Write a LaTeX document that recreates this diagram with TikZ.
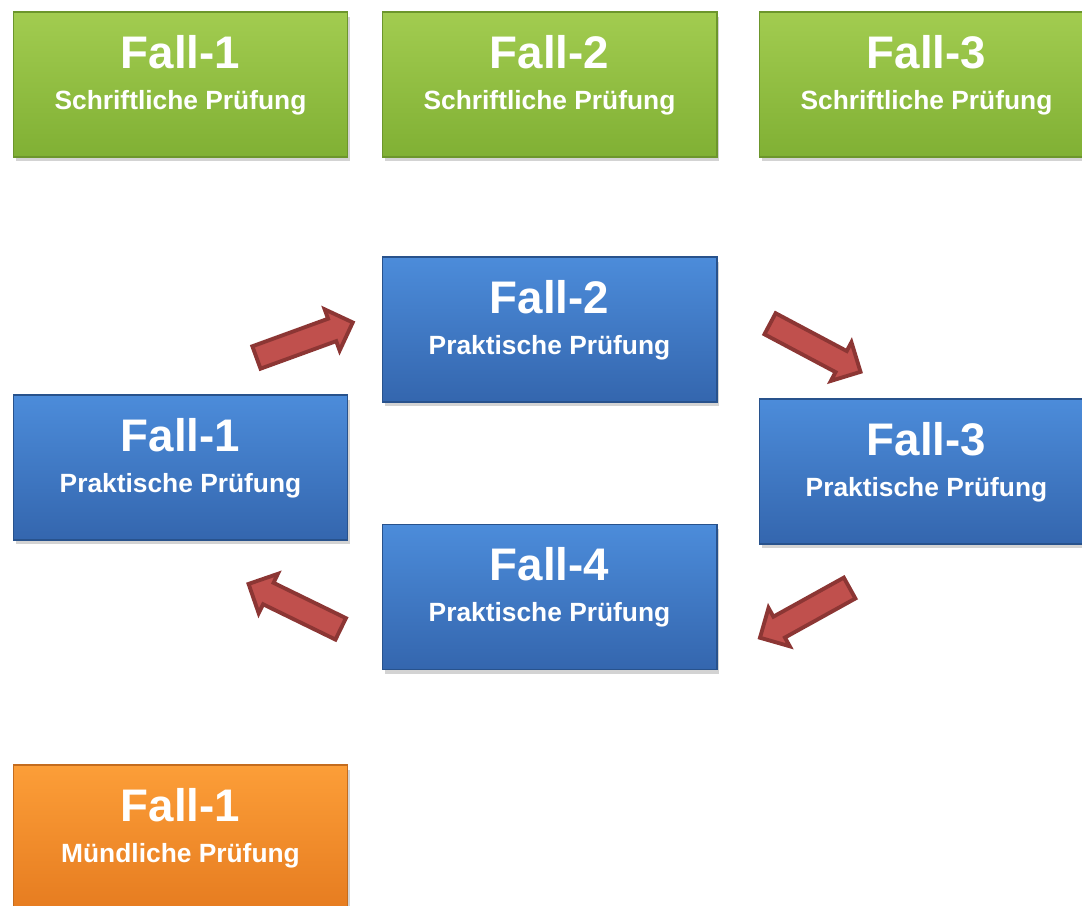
\documentclass[tikz,border=0pt]{standalone}
\usepackage{fontspec}
\setmainfont{Liberation Sans}
\usetikzlibrary{shapes.arrows, shadows, calc, positioning}
\definecolor{gruenhell}{RGB}{162,204,80}
\definecolor{gruendunkel}{RGB}{128,176,52}
\definecolor{gruenrand}{RGB}{108,150,44}
\definecolor{blauhell}{RGB}{76,140,218}
\definecolor{blaudunkel}{RGB}{52,102,174}
\definecolor{blaurand}{RGB}{40,82,140}
\definecolor{orangehell}{RGB}{252,158,56}
\definecolor{orangedunkel}{RGB}{230,124,32}
\definecolor{orangerand}{RGB}{196,108,30}
\definecolor{pfeilrot}{RGB}{192,80,77}
\definecolor{pfeilrand}{RGB}{140,54,52}

\begin{document}
\begin{tikzpicture}[
    x=0.02cm, y=-0.02cm,
    fallbox/.style={minimum width=6.7cm, minimum height=2.9cm, inner sep=0pt, line width=0.6pt,
        drop shadow={opacity=0.35, shadow xshift=0.05cm, shadow yshift=-0.09cm}},
    schrift/.style={fallbox, top color=gruenhell, bottom color=gruendunkel, draw=gruenrand},
    praxis/.style={fallbox, top color=blauhell, bottom color=blaudunkel, draw=blaurand},
    muendlich/.style={fallbox, top color=orangehell, bottom color=orangedunkel, draw=orangerand},
    titel/.style={text=white, font=\fontsize{26}{28}\selectfont\bfseries, anchor=base, inner sep=0pt},
    untertitel/.style={text=white, font=\fontsize{15}{17}\selectfont\bfseries, anchor=base, inner sep=0pt},
    pfeil/.style={single arrow, single arrow head extend=0.2cm, single arrow head indent=0pt,
        inner sep=0.2cm, minimum height=2.05cm, fill=pfeilrot, draw=pfeilrand, line width=2.2pt}
]
\useasboundingbox (0,0) rectangle (1082,906);
\clip (0,0) rectangle (1082,906);

% schriftliche Pruefung
\node[schrift] (s1) at (180.5,84.5) {};
\node[titel] (s1t) at ($(s1.north)+(0,57)$) {Fall-1};
\node[untertitel] (s1u) at ($(s1.north)+(0,98)$) {Schriftliche Prüfung};

\node[schrift] (s2) at (549.5,84.5) {};
\node[titel] (s2t) at ($(s2.north)+(0,57)$) {Fall-2};
\node[untertitel] (s2u) at ($(s2.north)+(0,98)$) {Schriftliche Prüfung};

\node[schrift] (s3) at (926.5,84.5) {};
\node[titel] (s3t) at ($(s3.north)+(0,57)$) {Fall-3};
\node[untertitel] (s3u) at ($(s3.north)+(0,98)$) {Schriftliche Prüfung};

% praktische Pruefung
\node[praxis] (p1) at (180.5,467.5) {};
\node[titel] (p1t) at ($(p1.north)+(0,57)$) {Fall-1};
\node[untertitel] (p1u) at ($(p1.north)+(0,98)$) {Praktische Prüfung};

\node[praxis] (p2) at (549.5,329.5) {};
\node[titel] (p2t) at ($(p2.north)+(0,57)$) {Fall-2};
\node[untertitel] (p2u) at ($(p2.north)+(0,98)$) {Praktische Prüfung};

\node[praxis] (p3) at (926.5,471.5) {};
\node[titel] (p3t) at ($(p3.north)+(0,57)$) {Fall-3};
\node[untertitel] (p3u) at ($(p3.north)+(0,98)$) {Praktische Prüfung};

\node[praxis] (p4) at (549.5,597) {};
\node[titel] (p4t) at ($(p4.north)+(0,57)$) {Fall-4};
\node[untertitel] (p4u) at ($(p4.north)+(0,98)$) {Praktische Prüfung};

% Pfeile im Kreis
\node[pfeil, rotate=20] (a12) at (299,342) {};
\node[pfeil, rotate=-28] (a23) at (810,345) {};
\node[pfeil, rotate=209] (a34) at (810,610) {};
\node[pfeil, rotate=154] (a41) at (300,609) {};

% muendliche Pruefung
\node[muendlich] (m1) at (180.5,837.5) {};
\node[titel] (m1t) at ($(m1.north)+(0,57)$) {Fall-1};
\node[untertitel] (m1u) at ($(m1.north)+(0,98)$) {Mündliche Prüfung};

\end{tikzpicture}
\end{document}
